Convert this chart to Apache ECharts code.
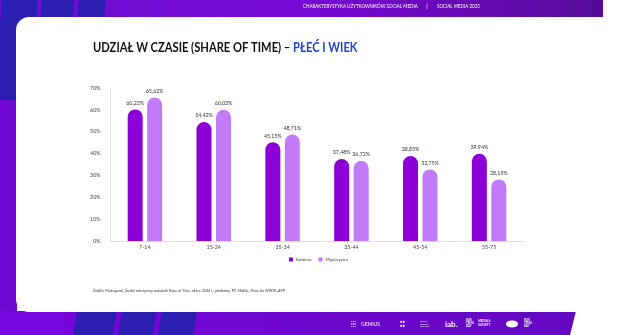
<!DOCTYPE html>
<html>
<head>
<meta charset="utf-8">
<script src="https://cdn.jsdelivr.net/npm/echarts@6/dist/echarts.min.js"></script>
<style>
  html, body { margin: 0; padding: 0; background: #ffffff; }
  #chart { width: 640px; height: 335px; }
</style>
</head>
<body>
<div id="chart"></div>
<script>
// Age groups and share-of-time values (%) per gender
const ageGroups = ['7-14', '15-24', '25-34', '35-44', '45-54', '55-75'];
const kobieta = [60.22, 54.42, 45.15, 37.48, 38.85, 39.94];
const mezczyzna = [65.62, 60.03, 48.71, 36.72, 32.75, 28.19];
const yTicks = [0, 10, 20, 30, 40, 50, 60, 70];
const seriesNames = ['Kobieta', 'Mężczyzna'];

const PURPLE_DARK = '#8a00d6';
const PURPLE_LIGHT = '#c27bf6';
const STRIPE = '#2a1fb0';
const FONT = 'Lato, "Open Sans", sans-serif';

const chart = echarts.init(document.getElementById('chart'), null, { renderer: 'canvas' });

const fmt = v => v.toFixed(2).replace('.', ',') + '%';

// Decorative frame: purple banners, blue stripes, white content card
const bandFill = new echarts.graphic.LinearGradient(0, 0, 1, 0, [
  { offset: 0, color: '#6a10d0' },
  { offset: 0.5, color: '#7a08d8' },
  { offset: 1, color: '#560a98' }
]);
const bottomFill = new echarts.graphic.LinearGradient(0, 0, 1, 0, [
  { offset: 0, color: '#7a06e0' },
  { offset: 1, color: '#6308c0' }
]);

function stripe(x, y0, y1, w, slant) {
  return {
    type: 'polygon', silent: true, z: 1,
    shape: { points: [[x + slant, y0], [x + w + slant, y0], [x + w, y1], [x, y1]] },
    style: { fill: STRIPE }
  };
}

const frame = [
  { type: 'rect', silent: true, z: 0, shape: { x: 0, y: 0, width: 603, height: 18 }, style: { fill: bandFill } },
  { type: 'rect', silent: true, z: 0, shape: { x: 0, y: 0, width: 17, height: 335 }, style: { fill: '#7008d4' } },
  { type: 'polygon', silent: true, z: 0, shape: { points: [[0, 311], [576, 311], [570, 335], [0, 335]] }, style: { fill: bottomFill } },
  // stripes at top-left
  stripe(-6, 0, 100, 36, 8),
  stripe(38, 0, 40, 32, 4),
  stripe(75, 0, 40, 27, 4),
  // stripes at bottom-left
  stripe(73, 311, 335, 40, 4),
  stripe(118, 311, 335, 35, 4),
  stripe(158, 311, 335, 35, 4),
  // white content card
  { type: 'rect', silent: true, z: 2, shape: { x: 16, y: 17, width: 640, height: 295, r: [13, 0, 0, 13] }, style: { fill: '#ffffff' } },
  // chart heading, set in a narrow face
  {
    type: 'text', silent: true, z: 3, x: 93, y: 48, scaleX: 0.81,
    style: {
      text: '{a|UDZIAŁ W CZASIE (SHARE OF TIME) – }{b|PŁEĆ I WIEK}',
      verticalAlign: 'middle',
      rich: {
        a: { fontFamily: FONT, fontWeight: 'bold', fontSize: 13.8, fill: '#111111' },
        b: { fontFamily: FONT, fontWeight: 'bold', fontSize: 13.8, fill: '#1f3fe0' }
      }
    }
  },
  // header texts
  { type: 'text', silent: true, z: 3, x: 303, y: 6, scaleX: 0.85, style: { text: 'CHARAKTERYSTYKA UŻYTKOWNIKÓW SOCIAL MEDIA', fill: '#ffffff', font: '5.3px ' + FONT, verticalAlign: 'middle' } },
  { type: 'text', silent: true, z: 3, style: { x: 427, y: 6, text: '|', fill: '#ffffff', font: '6px ' + FONT, verticalAlign: 'middle', align: 'center' } },
  { type: 'text', silent: true, z: 3, x: 437, y: 6, scaleX: 0.85, style: { text: 'SOCIAL MEDIA 2025', fill: '#ffffff', font: '5.3px ' + FONT, verticalAlign: 'middle' } },
  // source note
  { type: 'text', silent: true, z: 3, style: { x: 93, y: 291, text: 'Źródło: Mediapanel, Średni miesięczny wskaźnik Share of Time, okres: 2024 r., platformy: PC, Mobile, Dane dla WWW+APP', fill: '#333333', font: '3.55px ' + FONT, verticalAlign: 'middle' } },
  // partner marks in the footer
  { type: 'text', silent: true, z: 3, style: { x: 351, y: 324, text: '⁞⁞⁞', fill: '#ffffff', font: 'bold 6px ' + FONT, verticalAlign: 'middle' } },
  { type: 'text', silent: true, z: 3, style: { x: 361, y: 324, text: 'GEMIUS', fill: '#ffffff', font: '5px ' + FONT, verticalAlign: 'middle' } },
  { type: 'text', silent: true, z: 3, style: { x: 400, y: 324, text: '●●\n●●', fill: '#ffffff', font: '4px ' + FONT, verticalAlign: 'middle', lineHeight: 4 } },
  { type: 'text', silent: true, z: 3, style: { x: 420, y: 324, text: 'Polskie\nBadania\nInternetu', fill: '#ffffff', font: '2.4px ' + FONT, verticalAlign: 'middle', lineHeight: 2.6 } },
  { type: 'text', silent: true, z: 3, style: { x: 445, y: 324, text: 'iab.', fill: '#ffffff', font: 'bold 8px ' + FONT, verticalAlign: 'middle' } },
  { type: 'text', silent: true, z: 3, style: { x: 466, y: 323, text: 'ROK\nTEMU\nDAY', fill: '#ffffff', font: 'bold 2.8px ' + FONT, verticalAlign: 'middle', lineHeight: 3 } },
  { type: 'text', silent: true, z: 3, style: { x: 478, y: 323, text: 'MEDIA &\nSOCIETY', fill: '#ffffff', font: 'bold 3px ' + FONT, verticalAlign: 'middle', lineHeight: 3.4 } },
  { type: 'ellipse', silent: true, z: 3, shape: { cx: 512, cy: 324, rx: 6, ry: 3.4 }, style: { fill: '#ffffff' } },
  { type: 'text', silent: true, z: 3, style: { x: 524, y: 323, text: 'ROK\nTEMU\nDAY', fill: '#ffffff', font: 'bold 2.8px ' + FONT, verticalAlign: 'middle', lineHeight: 3 } }
];

const option = {
  animation: false,
  backgroundColor: '#ffffff',
  graphic: { elements: frame },
  legend: {
    left: 289, top: 257, padding: 0,
    icon: 'rect', itemWidth: 4, itemHeight: 4, itemGap: 7,
    textStyle: { fontFamily: FONT, fontSize: 4.6, color: '#444444', padding: [0, 0, 0, -2] },
    data: seriesNames,
    z: 10
  },
  grid: { left: 110.5, right: 116.5, top: 88, bottom: 94, containLabel: false },
  xAxis: {
    type: 'category',
    data: ageGroups,
    axisLine: { show: true, lineStyle: { color: '#dddddd', width: 1 } },
    axisTick: { show: false },
    axisLabel: { fontFamily: FONT, fontSize: 5.3, color: '#444444', margin: 4 },
    z: 10
  },
  yAxis: {
    type: 'value',
    min: yTicks[0], max: yTicks[yTicks.length - 1], interval: 10,
    axisLine: { show: true, lineStyle: { color: '#e2e2e2', width: 1 } },
    axisTick: { show: false },
    splitLine: { show: false },
    axisLabel: { fontFamily: FONT, fontSize: 5.3, color: '#444444', margin: 10, formatter: v => v + '%' },
    z: 10
  },
  series: [
    {
      name: seriesNames[0], type: 'bar', data: kobieta, z: 10,
      barWidth: 15, barGap: '30%',
      itemStyle: { color: PURPLE_DARK, borderRadius: [7.5, 7.5, 0, 0] },
      label: { show: true, position: 'top', distance: 4, fontFamily: FONT, fontSize: 5.3, color: '#333333', formatter: p => fmt(p.value) }
    },
    {
      name: seriesNames[1], type: 'bar', data: mezczyzna, z: 10,
      barWidth: 15, barGap: '30%',
      itemStyle: { color: PURPLE_LIGHT, borderRadius: [7.5, 7.5, 0, 0] },
      label: { show: true, position: 'top', distance: 4, fontFamily: FONT, fontSize: 5.3, color: '#333333', formatter: p => fmt(p.value) }
    }
  ]
};

chart.setOption(option);
</script>
</body>
</html>
